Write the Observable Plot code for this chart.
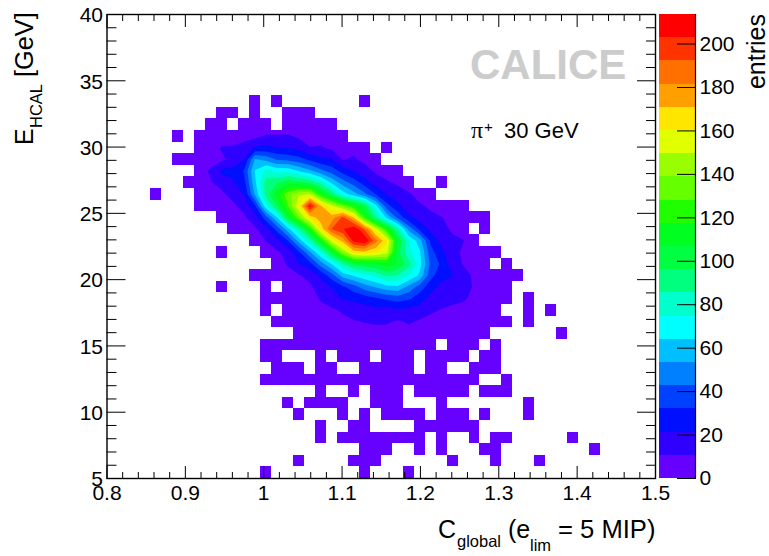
<!DOCTYPE html>
<html>
<head>
<meta charset="utf-8">
<style>
html,body{margin:0;padding:0;background:#fff;}
#wrap{position:relative;width:769px;height:556px;overflow:hidden;}
#wrap svg{position:absolute;top:0;}
</style>
<script src="https://cdn.jsdelivr.net/npm/d3@7"></script>
<script src="https://cdn.jsdelivr.net/npm/@observablehq/plot@0.6"></script>
</head>
<body>
<div id="wrap"></div>
<script>
// Bin counts, one named row per y bin (row 0 = lowest). Each row is a list of spans: [firstColumn, count, count, ...]
const r32=[[13,1],[15,1],[23,1]];
const r31=[[10,1,2],[13,1],[16,2,1,1]];
const r30=[[9,2,2],[12,2,3,2],[16,3,3,2,2,1]];
const r29=[[6,1],[8,2,3,4,5,7,8,12,12,12,9,8,6,4,2]];
const r28=[[8,5,6,12,12,15,23,24,22,21,19,11,12,9,8,8,4],[25,1]];
const r27=[[6,1,2,4,6,9,14,21,55,50,42,40,36,30,24,22,10,12,8,4]];
const r26=[[8,6,13,24,25,33,65,78,72,72,64,56,46,38,28,21,15,9,7,3]];
const r25=[[7,3,7,10,14,20,28,62,90,95,104,100,95,82,62,48,38,27,17,12,9,5],[30,1]];
const r24=[[4,1],[8,6,7,9,14,22,55,90,113,135,148,150,118,95,70,58,45,32,21,16,12,7,3]];
const r23=[[8,7,6,8,9,14,30,72,98,128,160,208,172,152,135,118,100,68,36,24,14,12,9,5,4,2]];
const r22=[[10,6,8,9,17,38,64,105,135,165,176,176,195,170,122,88,62,40,24,17,13,11,8,7,4,2]];
const r21=[[11,5,7,9,18,36,60,85,118,165,193,202,213,190,155,118,85,50,30,18,14,9,6],[34,2]];
const r20=[[13,5,11,18,32,58,82,115,155,175,207,213,186,162,108,75,58,30,18,13,11,6]];
const r19=[[10,1],[14,4,9,14,30,52,75,105,140,165,168,162,155,100,78,66,36,24,14,9,8,5,3]];
const r18=[[15,5,12,21,28,48,65,85,100,104,107,113,106,90,68,40,30,15,10,8,4],[36,1]];
const r17=[[13,3,4,4,6,10,14,24,38,58,65,72,78,88,85,75,62,36,25,22,14,9,7,5,2,1]];
const r16=[[10,1],[14,2],[16,3,5,9,16,22,30,38,48,54,60,62,50,38,26,18,15,13,10,7,3,1]];
const r15=[[14,2,2,3,4,6,12,16,22,24,26,30,34,36,34,26,18,15,14,12,8,5,3,1],[38,1]];
const r14=[[14,2],[16,3,4,5,7,9,12,14,17,18,16,20,18,17,12,10,8,7,5,4,2],[38,1],[40,1]];
const r13=[[15,1,2,3,4,5,6,8,10,11,12,12,9,12,9,8,6,5,4,3,3,2,1],[38,1]];
const r12=[[17,1,2,3,4,5,5,6,7,6,7,6,6,5,4,4,3,2,1],[41,1]];
const r11=[[14,1,1,2,2,2,3,3,3,4,4,3,4,3,3,2,2],[31,2,2,1],[35,1]];
const r10=[[14,1,1],[19,2],[21,3,3,2],[25,2,3,2],[29,2,2,1,1],[34,1,1]];
const r9=[[15,1,1,1],[19,2,2],[23,2,3,3,2,2],[29,2,2],[33,1,1,1]];
const r8=[[14,1,1,2,2,2,2,3,3,3,3,3,3,3,3,3,2,2,2,1,1],[36,1]];
const r7=[[19,1],[22,1],[24,2,2,2],[28,2,2,2,1,1],[34,1,1,1]];
const r6=[[16,1],[18,1,1,1,1],[24,2,2,1],[30,1],[38,1]];
const r5=[[17,1],[21,1],[23,1],[25,1,2,1,1],[30,1,1,1],[34,1],[38,1]];
const r4=[[19,1],[22,1,1],[28,1,1,2,1,1,1]];
const r3=[[19,1],[21,1,1,1,1,2,1,1,1],[30,1],[33,1],[35,1,1],[42,1]];
const r2=[[23,1,1,1],[28,1],[30,1],[34,1,1],[44,1]];
const r1=[[17,1],[22,1,1,1],[31,1],[35,1],[39,1]];
const r0=[[14,1],[23,1],[27,1]];
const rowsFromBottom=[r0,r1,r2,r3,r4,r5,r6,r7,r8,r9,r10,r11,r12,r13,r14,r15,r16,r17,r18,r19,r20,r21,r22,r23,r24,r25,r26,r27,r28,r29,r30,r31,r32];

const xDomain=[0.8,1.5], yDomain=[5,40], nx=50, ny=40, maxEntries=213.6;
const levels=[0,10.68,21.36,32.04,42.72,53.4,64.08,74.76,85.44,96.12,106.8,117.48,128.16,138.84,149.52,160.2,170.88,181.56,192.24,202.92];
const palette=["#6600FF","#3000FF","#0010FF","#0040FF","#0080FF","#00BFFF","#00FFFF","#00FFCC","#00FF7F","#00FF40","#00FF20","#20FF00","#66FF00","#99FF00","#E0FF00","#FFE600","#FFA000","#FF7000","#FF3300","#FF0000"];
const xMajor=[0.8,0.9,1,1.1,1.2,1.3,1.4,1.5];
const xMinor=[0.82,0.84,0.86,0.88,0.92,0.94,0.96,0.98,1.02,1.04,1.06,1.08,1.12,1.14,1.16,1.18,1.22,1.24,1.26,1.28,1.32,1.34,1.36,1.38,1.42,1.44,1.46,1.48];
const yMajor=[5,10,15,20,25,30,35,40];
const yMinor=[6,7,8,9,11,12,13,14,16,17,18,19,21,22,23,24,26,27,28,29,31,32,33,34,36,37,38,39];
const zMajor=[0,20,40,60,80,100,120,140,160,180,200];

// grid: top row first, as a flat array
const grid=new Array(nx*ny).fill(0);
const cells=[];
rowsFromBottom.forEach((spans,j)=>spans.forEach(([start,...counts])=>counts.forEach((c,k)=>{
  const i=start+k, dx=(xDomain[1]-xDomain[0])/nx, dy=(yDomain[1]-yDomain[0])/ny;
  grid[(ny-1-j)*nx+i]=c;
  cells.push({x1:xDomain[0]+i*dx,x2:xDomain[0]+(i+1)*dx,y1:yDomain[0]+j*dy,y2:yDomain[0]+(j+1)*dy,c});
})));

const colorOpt={type:"threshold",domain:levels.slice(1),range:palette};
const font="'Liberation Sans',Arial,Helvetica,sans-serif";
const tickOnly={fill:"none",label:null};

const main=Plot.plot({
  width:769,height:556,
  marginLeft:106.5,marginRight:114,marginTop:14,marginBottom:78,
  style:{fontFamily:font,background:"transparent",color:"#000"},
  x:{domain:xDomain},y:{domain:yDomain},color:colorOpt,
  marks:[
    Plot.rect(cells,{x1:"x1",x2:"x2",y1:"y1",y2:"y2",fill:()=>0,shapeRendering:"crispEdges"}),
    Plot.contour(grid,{width:nx,height:ny,x1:xDomain[0],x2:xDomain[1],y1:yDomain[1],y2:yDomain[0],fill:Plot.identity,thresholds:levels.slice(1)}),
    Plot.axisX({anchor:"bottom",ticks:xMajor,tickSize:-12,...tickOnly}),
    Plot.axisX({anchor:"bottom",ticks:xMinor,tickSize:-6,...tickOnly}),
    Plot.axisX({anchor:"top",ticks:xMajor,tickSize:-12,...tickOnly}),
    Plot.axisX({anchor:"top",ticks:xMinor,tickSize:-6,...tickOnly}),
    Plot.axisY({anchor:"left",ticks:yMajor,tickSize:-19,...tickOnly}),
    Plot.axisY({anchor:"left",ticks:yMinor,tickSize:-10,...tickOnly}),
    Plot.axisY({anchor:"right",ticks:yMajor,tickSize:-19,...tickOnly}),
    Plot.axisY({anchor:"right",ticks:yMinor,tickSize:-10,...tickOnly}),
    Plot.axisX({anchor:"bottom",ticks:xMajor,tickSize:0,tickPadding:7,fontSize:21,tickFormat:d=>String(d),label:null}),
    Plot.axisY({anchor:"left",ticks:yMajor,tickSize:0,tickPadding:4,fontSize:21,tickFormat:d=>String(d),label:null,dy:1}),
    Plot.frame({stroke:"#000",strokeWidth:1.4})
  ]
});

const bar=Plot.plot({
  width:110,height:556,
  marginLeft:0,marginRight:74,marginTop:14,marginBottom:78,
  style:{fontFamily:font,background:"transparent",color:"#000",left:"659px"},
  x:{domain:[0,1],axis:null},y:{domain:[0,maxEntries]},color:colorOpt,
  marks:[
    Plot.rect(levels,{x1:0,x2:1,y1:d=>d,y2:(d,i)=>levels[i+1]??maxEntries,fill:d=>d,shapeRendering:"crispEdges"}),
    Plot.axisY({anchor:"right",ticks:zMajor,tickSize:-19,...tickOnly}),
    Plot.axisY({anchor:"right",ticks:zMajor,tickSize:0,tickPadding:4,fontSize:21,tickFormat:d=>String(d),label:null,textAnchor:"start"}),
    Plot.ruleX([1],{stroke:"#000",strokeWidth:1.2})
  ]
});

const wrap=document.getElementById("wrap");
main.style.left="0px";
wrap.append(main,bar);

// Text with sub- and superscripts, as real SVG text
const put=(svg,t,x,y,size,opts={})=>d3.select(svg).append("text").text(t)
  .attr("transform",opts.rot?`translate(${x},${y}) rotate(-90)`:`translate(${x},${y})`)
  .attr("font-size",size).attr("font-family",opts.family||font)
  .attr("font-weight",opts.weight||"normal").attr("fill",opts.fill||"#000")
  .attr("text-anchor",opts.anchor||"start");

put(main,"C",438,538,25);
put(main,"global",457,547,16.5);
put(main,"(e",508,538,25);
put(main,"lim",530,551,16.5);
put(main,"= 5 MIP)",558,538,25.6);

put(main,"E",33,145,25,{rot:true});
put(main,"HCAL",41.7,128,16.5,{rot:true});
put(main,"[GeV]",33,77,25.3,{rot:true});

put(main,"CALICE",470,79,42,{weight:"bold",fill:"#CCCCCC"});
put(main,"π",471,138,24,{family:"'Liberation Serif',serif"});
put(main,"+",484,132,15);
put(main,"30 GeV",504,138,22);

put(bar,"entries",765-659,14,25,{rot:true,anchor:"end"});
</script>
</body>
</html>
